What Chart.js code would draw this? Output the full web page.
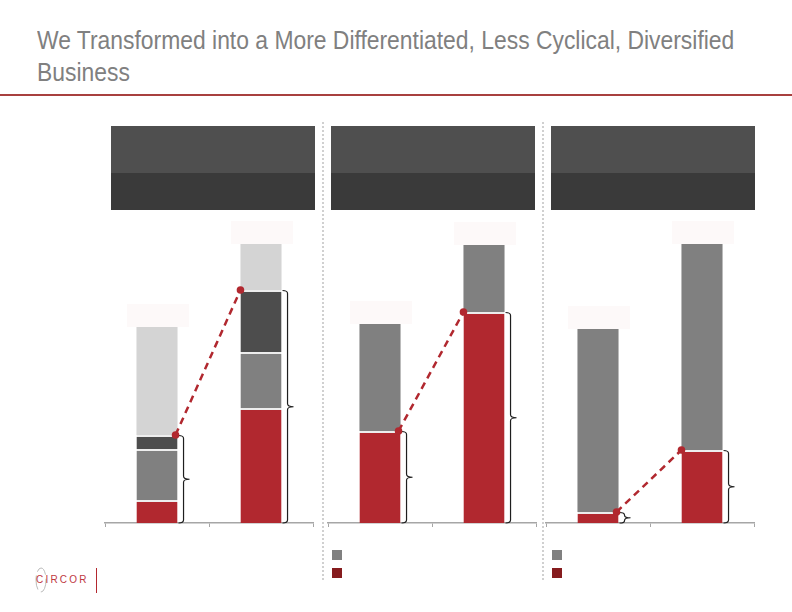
<!DOCTYPE html>
<html>
<head>
<meta charset="utf-8">
<script src="https://cdn.jsdelivr.net/npm/chart.js@4"></script>
<style>
  body { margin: 0; width: 792px; height: 612px; position: relative; background: #fff; overflow: hidden; font-family: "Liberation Sans", Arial, sans-serif; }
  .title { position: absolute; left: 37px; top: 24px; font-family: "Liberation Sans", Arial, sans-serif; font-size: 26px; line-height: 32px; color: #808080; white-space: nowrap; transform: scaleX(0.88); transform-origin: left top; }
  .rule { position: absolute; left: 0; top: 94px; width: 792px; height: 2px; background: #a8403f; }
  .head { position: absolute; top: 126px; width: 204px; height: 84px; }
  .head .up { height: 47px; background: #4f4f4f; }
  .head .down { height: 37px; background: #3a3a3a; }
  .sep { position: absolute; top: 122px; height: 458px; width: 0; border-left: 2px dotted #d0d0d0; }
  .sq { position: absolute; width: 10px; height: 10px; }
  canvas { position: absolute; }
  .logo { position: absolute; left: 33px; top: 566px; }
  .bar { position: absolute; left: 96px; top: 568px; width: 1px; height: 25px; background: #b3282f; }
</style>
</head>
<body>
<div class="title">We Transformed into a More Differentiated, Less Cyclical, Diversified<br>Business</div>
<div class="rule"></div>

<div class="head" style="left:111px"><div class="up"></div><div class="down"></div></div>
<div class="head" style="left:331px"><div class="up"></div><div class="down"></div></div>
<div class="head" style="left:551px"><div class="up"></div><div class="down"></div></div>

<div class="sep" style="left:322px"></div>
<div class="sep" style="left:542px"></div>

<div class="sq" style="left:332px; top:550px; background:#808080"></div>
<div class="sq" style="left:332px; top:568px; background:#861c1e"></div>
<div class="sq" style="left:552px; top:550px; background:#808080"></div>
<div class="sq" style="left:552px; top:568px; background:#861c1e"></div>

<canvas id="c1" width="214" height="320" style="left:102px; top:215px"></canvas>
<canvas id="c2" width="214" height="320" style="left:325px; top:215px"></canvas>
<canvas id="c3" width="214" height="320" style="left:543px; top:215px"></canvas>

<svg class="logo" width="60" height="30">
  <ellipse cx="8" cy="14" rx="5" ry="12" fill="none" stroke="#aaaaaa" stroke-width="0.8" stroke-dasharray="14 4"></ellipse>
  <text x="3" y="17" font-size="10" fill="#c0393f" letter-spacing="2.2" font-family="Liberation Sans">CIRCOR</text>
</svg>
<div class="bar"></div>

<script>
const categories = ['Before', 'After'];

// panel 1: four segments per bar
const p1Red = [23, 115];
const p1Gray = [51, 56];
const p1Dark = [14, 62];
const p1Light = [108, 46];

// panel 2
const p2Red = [92, 211];
const p2Gray = [107, 67];

// panel 3
const p3Red = [11, 73];
const p3Gray = [183, 206];

const yMax = 308;

const RED = '#b1282f';
const GRAY = '#808080';
const DARK = '#4d4d4d';
const LIGHT = '#d4d4d4';

const decor = {
    id: 'decor',
    afterDatasetsDraw(chart, args, opts) {
        const ctx = chart.ctx;
        const last = chart.getDatasetMeta(chart.data.datasets.length - 1).data;
        const link = chart.getDatasetMeta(opts.link).data;
        const zero = chart.scales.y.getPixelForValue(0);

        // blank label boxes above each bar
        ctx.save();
        ctx.fillStyle = '#fdf9f9';
        for (let b of last) {
            ctx.fillRect(b.x - 30, b.y - 23, 62, 23);
        }

        // braces on the right of each bar, from linked segment top down to zero
        ctx.strokeStyle = '#1e1e1e';
        ctx.lineWidth = 1.2;
        for (let b of link) {
            const r = b.x + b.width / 2;
            const hx = r + 1, vx = r + 6, tip = r + 12;
            const top = b.y + 0.5, bot = zero;
            const mid = (top + bot) / 2;
            const c = Math.min(3, (bot - top) / 4);
            ctx.beginPath();
            ctx.moveTo(hx, top);
            ctx.quadraticCurveTo(vx, top, vx, top + c);
            ctx.lineTo(vx, mid - c);
            ctx.quadraticCurveTo(vx, mid, tip, mid);
            ctx.quadraticCurveTo(vx, mid, vx, mid + c);
            ctx.lineTo(vx, bot - c);
            ctx.quadraticCurveTo(vx, bot, hx, bot);
            ctx.stroke();
        }

        // dashed connector between the linked segments
        const a = link[0], z = link[1];
        const x1 = a.x + a.width / 2 - 2, y1 = a.y;
        const x2 = z.x - z.width / 2, y2 = z.y;
        ctx.strokeStyle = RED;
        ctx.fillStyle = RED;
        ctx.lineWidth = 2.5;
        ctx.setLineDash([7, 5]);
        ctx.beginPath();
        ctx.moveTo(x1, y1);
        ctx.lineTo(x2, y2);
        ctx.stroke();
        ctx.setLineDash([]);
        for (let p of [[x1, y1], [x2, y2]]) {
            ctx.beginPath();
            ctx.arc(p[0], p[1], 3.8, 0, Math.PI * 2);
            ctx.fill();
        }
        ctx.restore();
    }
};

function seg(values, color, isTop) {
    return {
        data: values,
        backgroundColor: color,
        borderColor: '#ededed',
        borderWidth: isTop ? 0 : { top: 2, right: 0, bottom: 0, left: 0 },
        borderSkipped: false,
        categoryPercentage: 1,
        barPercentage: 0.395
    };
}

function makeChart(id, datasets, link) {
    new Chart(document.getElementById(id), {
        type: 'bar',
        data: { labels: categories, datasets: datasets },
        options: {
            responsive: false,
            animation: false,
            layout: { padding: { left: 3, right: 3, top: 0, bottom: 0 } },
            plugins: {
                legend: { display: false },
                tooltip: { enabled: false },
                decor: { link: link }
            },
            scales: {
                x: {
                    stacked: true,
                    grid: { drawOnChartArea: false, drawTicks: true, tickLength: 4, color: '#a6a6a6', offset: true },
                    border: { color: '#a6a6a6', width: 1.5 },
                    ticks: { display: false },
                    afterFit(scale) { scale.height = 12; }
                },
                y: {
                    stacked: true,
                    display: false,
                    min: 0,
                    max: yMax
                }
            }
        },
        plugins: [decor]
    });
}

makeChart('c1', [
    seg(p1Red, RED, false),
    seg(p1Gray, GRAY, false),
    seg(p1Dark, DARK, false),
    seg(p1Light, LIGHT, true)
], 2);

makeChart('c2', [
    seg(p2Red, RED, false),
    seg(p2Gray, GRAY, true)
], 0);

makeChart('c3', [
    seg(p3Red, RED, false),
    seg(p3Gray, GRAY, true)
], 0);
</script>
</body>
</html>
